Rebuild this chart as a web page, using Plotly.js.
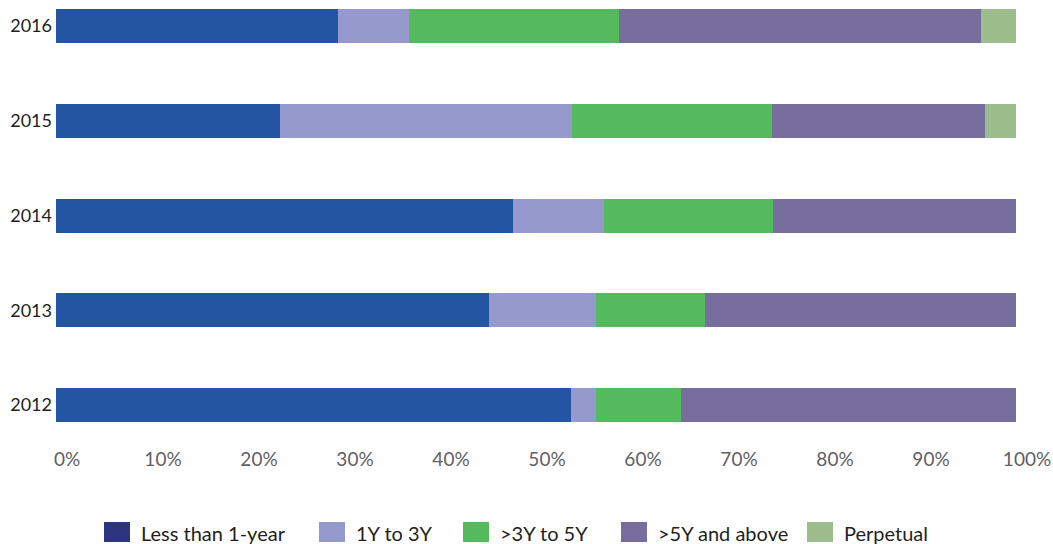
<!DOCTYPE html>
<html>
<head>
<meta charset="utf-8">
<script src="https://cdn.plot.ly/plotly-3.0.1.min.js"></script>
<style>
  html, body { margin: 0; padding: 0; background: #ffffff; }
  #chart { width: 1053px; height: 544px; }
</style>
</head>
<body>
<div id="chart"></div>
<script>
// ---- data ----
const years = ['2012', '2013', '2014', '2015', '2016'];
const seriesNames = ['Less than 1-year', '1Y to 3Y', '>3Y to 5Y', '>5Y and above', 'Perpetual'];
const lessThan1Y = [53.6, 45.1, 47.6, 23.3, 29.4];
const y1to3 = [2.6, 11.1, 9.5, 30.4, 7.4];
const y3to5 = [8.9, 11.4, 17.6, 20.9, 21.8];
const y5plus = [34.9, 32.4, 25.3, 22.2, 37.8];
const perpetual = [0, 0, 0, 3.2, 3.6];
const xTickVals = [0, 10, 20, 30, 40, 50, 60, 70, 80, 90, 100];
const xTickText = ['0%', '10%', '20%', '30%', '40%', '50%', '60%', '70%', '80%', '90%', '100%'];

// ---- style ----
const barColors = ['#2355A3', '#9599CB', '#55B95D', '#786E9E', '#9DBE8C'];
const legendColors = ['#2E3580', '#9599CB', '#55B95D', '#786E9E', '#9DBE8C'];
const seriesValues = [lessThan1Y, y1to3, y3to5, y5plus, perpetual];

const W = 1053, H = 544;
const M = { l: 56, r: 37, t: 5, b: 114 };
const plotW = W - M.l - M.r, plotH = H - M.t - M.b;
const px2paperX = p => (p - M.l) / plotW;
const px2paperY = p => (H - M.b - p) / plotH;

const traces = seriesNames.map((name, i) => ({
  type: 'bar',
  orientation: 'h',
  name: name,
  y: years,
  x: seriesValues[i],
  marker: { color: barColors[i], line: { width: 0 } },
  showlegend: false,
  hoverinfo: 'name+x'
}));

// custom legend (large swatches) built from series names
const legendSwatchX = [104, 319, 463, 621, 807];
const swTop = 522, swBot = 542, swW = 26, textGap = 9;
const shapes = seriesNames.map((n, i) => ({
  type: 'rect', xref: 'paper', yref: 'paper',
  x0: px2paperX(legendSwatchX[i]), x1: px2paperX(legendSwatchX[i] + swW),
  y0: px2paperY(swBot), y1: px2paperY(swTop),
  fillcolor: legendColors[i], line: { width: 0 }
}));
const annotations = seriesNames.map((n, i) => ({
  text: n, xref: 'paper', yref: 'paper',
  x: px2paperX(legendSwatchX[i] + swW + textGap), y: px2paperY(533),
  xanchor: 'left', yanchor: 'middle', showarrow: false,
  font: { family: 'Lato, sans-serif', size: 20, color: '#231F20' }
}));

const layout = {
  width: W, height: H,
  margin: M,
  paper_bgcolor: '#ffffff', plot_bgcolor: '#ffffff',
  barmode: 'stack',
  bargap: 0.641,
  showlegend: false,
  xaxis: {
    range: [0, 100],
    tickmode: 'array', tickvals: xTickVals, ticktext: xTickText,
    showgrid: false, zeroline: false, showline: false, ticks: '',
    ticklabelshift: 11,
    ticklabelstandoff: 16,
    ticklabeloverflow: 'allow',
    tickfont: { family: 'Lato, sans-serif', size: 19, color: '#5F6062' },
    fixedrange: true
  },
  yaxis: {
    type: 'category',
    categoryorder: 'array', categoryarray: years,
    range: [-0.264, 4.222],
    showgrid: false, zeroline: false, showline: false, ticks: '',
    ticklabelstandoff: 3,
    tickfont: { family: 'Lato, sans-serif', size: 18, color: '#231F20' },
    fixedrange: true
  },
  shapes: shapes,
  annotations: annotations
};

Plotly.newPlot('chart', traces, layout, { displayModeBar: false, staticPlot: true });
</script>
</body>
</html>
